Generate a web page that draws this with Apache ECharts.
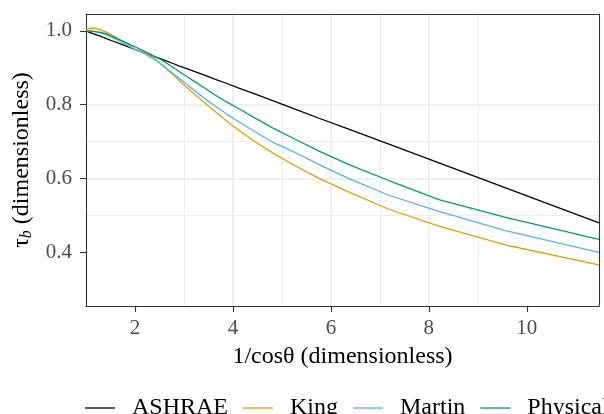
<!DOCTYPE html>
<html lang="en">
<head>
    <meta charset="UTF-8">
    <title>tau_b vs air mass</title>
    <style>
        html, body { margin: 0; padding: 0; background: #fff; }
        #main { width: 604px; height: 414px; }
    </style>
</head>
<body>
<div id="main"></div>
<script src="https://cdn.jsdelivr.net/npm/echarts@6/dist/echarts.min.js"></script>
<script>
    // 1/cos(theta) sample points
    var xVals = [1, 1.064, 1.155, 1.305, 1.414, 1.556, 1.743, 2.0, 2.203, 2.366, 2.559, 2.79, 2.924, 3.072, 3.236, 3.42, 3.628, 3.864, 4.134, 4.445, 4.81, 5.241, 5.759, 6.392, 7.185, 8.206, 9.567, 11.474];

    var ashrae   = [1.000, 0.997, 0.992, 0.985, 0.979, 0.972, 0.963, 0.950, 0.940, 0.932, 0.923, 0.911, 0.904, 0.897, 0.889, 0.880, 0.869, 0.858, 0.844, 0.829, 0.811, 0.789, 0.763, 0.732, 0.693, 0.642, 0.574, 0.479];
    var king     = [1.004, 1.007, 1.008, 1.003, 0.997, 0.987, 0.972, 0.951, 0.940, 0.929, 0.906, 0.880, 0.863, 0.845, 0.826, 0.805, 0.782, 0.756, 0.729, 0.700, 0.669, 0.636, 0.600, 0.561, 0.516, 0.470, 0.419, 0.365];
    var martin   = [1.000, 1.000, 0.999, 0.994, 0.989, 0.981, 0.968, 0.950, 0.938, 0.925, 0.908, 0.883, 0.869, 0.853, 0.836, 0.817, 0.797, 0.775, 0.752, 0.727, 0.698, 0.672, 0.637, 0.598, 0.554, 0.510, 0.458, 0.399];
    var physical = [1.000, 1.000, 0.999, 0.996, 0.992, 0.984, 0.973, 0.957, 0.944, 0.933, 0.920, 0.900, 0.888, 0.875, 0.861, 0.845, 0.827, 0.808, 0.788, 0.764, 0.737, 0.708, 0.674, 0.636, 0.594, 0.542, 0.494, 0.434];

    var seriesNames = ['ASHRAE', 'King', 'Martin', 'Physical'];
    var seriesColors = ['#000000', '#E69F00', '#56B4E9', '#009E73'];

    var xMajor = [2, 4, 6, 8, 10];
    var xMinor = [1, 3, 5, 7, 9, 11];
    var yMajor = [0.4, 0.6, 0.8, 1.0];
    var yMinor = [0.3, 0.5, 0.7, 0.9];

    var font = 'Liberation Serif';
    var xMin = 1, xMax = 11.474;
    var yMin = 0.2534, yMax = 1.046;

    function pairs(ys) {
        return xVals.map(function (x, i) { return [x, ys[i]]; });
    }

    var chart = echarts.init(document.getElementById('main'));

    var option = {
        animation: false,
        backgroundColor: '#fff',
        grid: { left: 86, top: 14, right: 5, bottom: 108, containLabel: false },
        legend: {
            left: 80, top: 391, width: 900,
            icon: 'rect',
            itemWidth: 30, itemHeight: 1.3, itemGap: 15,
            data: seriesNames,
            textStyle: { fontFamily: font, fontSize: 24, color: '#000', padding: [0, 0, 0, 12] }
        },
        xAxis: [{
            type: 'value', min: xMin, max: xMax,
            name: '1/cosθ (dimensionless)', nameLocation: 'middle', nameGap: 39,
            nameTextStyle: { fontFamily: font, fontSize: 24, color: '#000' },
            axisLine: { show: true, lineStyle: { color: '#333', width: 1.1 } },
            axisTick: { show: true, length: 6, customValues: xMajor, lineStyle: { color: '#333', width: 1.1 } },
            axisLabel: { customValues: xMajor, margin: 12, fontFamily: font, fontSize: 21, color: '#4D4D4D' },
            splitLine: { show: true, showMinLine: false, showMaxLine: false, lineStyle: { color: '#EBEBEB', width: 1.6 } }
        }, {
            type: 'value', min: xMin, max: xMax, position: 'top',
            axisLine: { show: true, onZero: false, lineStyle: { color: '#333', width: 1.1 } },
            axisTick: { show: false, customValues: xMinor },
            axisLabel: { show: false },
            splitLine: { show: true, showMinLine: false, showMaxLine: false, lineStyle: { color: '#EBEBEB', width: 0.9 } }
        }],
        yAxis: [{
            type: 'value', min: yMin, max: yMax,
            name: '{t|τ}{b|b} (dimensionless)', nameLocation: 'middle', nameGap: 50, nameRotate: 90,
            nameTextStyle: {
                fontFamily: font, fontSize: 24, color: '#000',
                rich: {
                    t: { fontFamily: font, fontSize: 24, color: '#000' },
                    b: { fontFamily: font, fontSize: 16, fontStyle: 'italic', color: '#000', padding: [10, 0, 0, 0] }
                }
            },
            axisLine: { show: true, lineStyle: { color: '#333', width: 1.1 } },
            axisTick: { show: true, length: 6, customValues: yMajor, lineStyle: { color: '#333', width: 1.1 } },
            axisLabel: {
                customValues: yMajor, margin: 14, fontFamily: font, fontSize: 21, color: '#4D4D4D',
                formatter: function (v) { return v.toFixed(1); }
            },
            splitLine: { show: true, showMinLine: false, showMaxLine: false, lineStyle: { color: '#EBEBEB', width: 1.6 } }
        }, {
            type: 'value', min: yMin, max: yMax, position: 'right',
            axisLine: { show: true, onZero: false, lineStyle: { color: '#333', width: 1.1 } },
            axisTick: { show: false, customValues: yMinor },
            axisLabel: { show: false },
            splitLine: { show: true, showMinLine: false, showMaxLine: false, lineStyle: { color: '#EBEBEB', width: 0.9 } }
        }],
        series: [ashrae, king, martin, physical].map(function (ys, i) {
            return {
                name: seriesNames[i],
                type: 'line',
                data: pairs(ys),
                symbol: 'none',
                smooth: false,
                color: seriesColors[i],
                lineStyle: { color: seriesColors[i], width: 1.3 },
                z: 3
            };
        })
    };

    chart.setOption(option);
</script>
</body>
</html>
